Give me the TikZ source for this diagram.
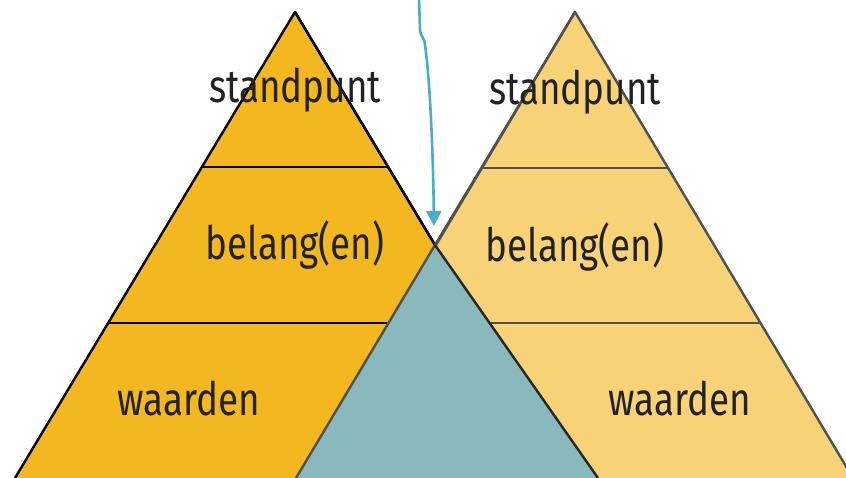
\documentclass[tikz,border=0pt]{standalone}
\usepackage{fontspec}
\setmainfont[FakeStretch=0.8]{Fira Sans}
\usetikzlibrary{arrows.meta}
\definecolor{darkyel}{HTML}{F3B81F}
\definecolor{lightyel}{HTML}{F8D277}
\definecolor{tealfill}{HTML}{89B9BD}
\definecolor{edgegray}{HTML}{505050}
\definecolor{arrowblue}{HTML}{4AADC8}
\definecolor{txt}{HTML}{222222}
\tikzset{
  lbl/.style={text=txt, font=\fontsize{46}{46}\selectfont, inner sep=0pt, anchor=base},
  pointer/.style={draw=arrowblue, line width=2.6pt, -{Triangle[length=15pt,width=15pt]}},
  edge/.style={line width=2.4pt}
}
\begin{document}
\begin{tikzpicture}[x=1pt,y=-1pt]
\useasboundingbox (0,0) rectangle (846,478);
% left pyramid
\fill[darkyel] (295,12) -- (15,478) -- (575,478) -- cycle;
\draw[black, edge, line join=round] (15,478) -- (295,12) -- (575,478);
\draw[black, edge] (202,167) -- (388,167);
\draw[black, edge] (108,323) -- (482,323);
% right pyramid
\fill[lightyel] (575,12) -- (297,478) -- (853,478) -- cycle;
\draw[edgegray, edge, line join=round] (297,478) -- (575,12) -- (853,478);
\draw[edgegray, edge] (482,168) -- (668,168);
\draw[edgegray, edge] (390,323) -- (761,323);
% overlap
\fill[tealfill] (435,245) -- (296,478) -- (598,478) -- cycle;
\draw[edgegray, edge] (435,245) -- (296,478);
\draw[black!85, edge] (435,245) -- (598,478);
\draw[black, edge] (295,12) -- (435,245);
\draw[edgegray, edge] (575,12) -- (435,245);
% labels
\node[lbl] (ls) at (295,103) {standpunt};
\node[lbl] (lb) at (295,260) {belang(en)};
\node[lbl] (lw) at (189,415) {waarden};
\node[lbl] (rs) at (575,105) {standpunt};
\node[lbl] (rb) at (575,262) {belang(en)};
\node[lbl] (rw) at (680,415) {waarden};
% pointer
\coordinate (ps) at (419,-2);
\coordinate (pe) at (434,226);
\draw[pointer] (ps) -- (420,30) .. controls (421,38) and (425,38) .. (425,45) .. controls (430,80) and (433,150) .. (pe);
\end{tikzpicture}
\end{document}
